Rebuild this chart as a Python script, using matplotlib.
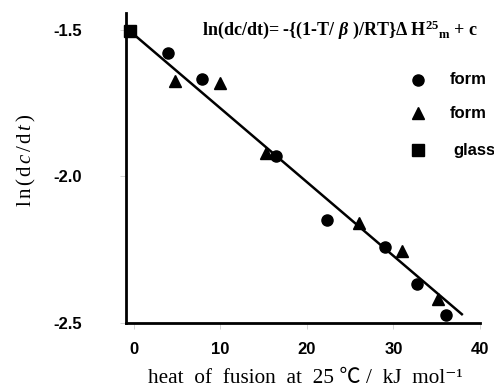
import matplotlib
matplotlib.use("Agg")
import matplotlib.pyplot as plt
from matplotlib.lines import Line2D

plt.rcParams["mathtext.fontset"] = "custom"
plt.rcParams["mathtext.rm"] = "Liberation Serif"
plt.rcParams["mathtext.it"] = "Liberation Serif:italic"
plt.rcParams["mathtext.bf"] = "Liberation Serif:bold"
try:
    plt.rcParams["mathtext.bfit"] = "Liberation Serif:italic:bold"
    BETA = r"$\mathbfit{\beta}$"
except KeyError:
    BETA = r"$\mathbf{\beta}$"

# data
circle_x = [3.9, 7.9, 16.4, 22.35, 29.0, 32.7, 36.1]
circle_y = [-1.58, -1.668, -1.93, -2.148, -2.24, -2.367, -2.473]
tri_x = [4.8, 9.9, 15.3, 26.05, 30.95, 35.2]
tri_y = [-1.674, -1.68, -1.921, -2.158, -2.253, -2.418]
glass_x = [-0.5]
glass_y = [-1.503]
line_x = [-0.5, 37.9]
line_y = [-1.503, -2.47]
xticks = [0, 10, 20, 30, 40]
yticks = [-1.5, -2.0, -2.5]
ytick_labels = ["-1.5", "-2.0", "-2.5"]
legend_labels = ["form", "form", "glass"]

fig = plt.figure(figsize=(4.94, 3.90), dpi=100)
ax = fig.add_axes([126/494, 1-323/390, (480-126)/494, (323-13)/390])
ax.set_xlim(-0.92, 40)
ax.set_ylim(-2.5, -1.442)

ax.plot(line_x, line_y, color="black", lw=1.8, zorder=2)
ax.plot(circle_x, circle_y, "o", color="black", ms=8, zorder=3, clip_on=False)
ax.plot(tri_x, tri_y, "^", color="black", ms=8.5, zorder=3, clip_on=False)
ax.plot(glass_x, glass_y, "s", color="black", ms=8, zorder=3, clip_on=False)

for s in ["top", "right"]:
    ax.spines[s].set_visible(False)
for s in ["left", "bottom"]:
    ax.spines[s].set_linewidth(2)

ax.set_xticks(xticks)
ax.set_xticklabels([str(v) for v in xticks], fontsize=12, fontweight="bold",
                   family="Liberation Sans")
ax.set_yticks(yticks)
ax.set_yticklabels(ytick_labels, fontsize=12, fontweight="bold",
                   family="Liberation Sans")
ax.tick_params(axis="both", length=4, width=0.6, color="#cccccc")
ax.tick_params(axis="x", pad=10)
ax.tick_params(axis="y", pad=28)

fig.text(305/494, 1-383/390,
         "heat  of  fusion  at  25 \u2103 /  kJ  mol\u207b\u00b9",
         fontsize=15.3, family=["Liberation Serif", "Noto Sans CJK JP", "DejaVu Sans"],
         ha="center", va="baseline")
fig.text(26/494, 1-160/390,
         r"$\mathrm{l\,n\,(\,d}\,\mathit{c}\,\mathrm{/\,d}\,\mathit{t}\,\mathrm{)}$",
         rotation=90, fontsize=15, ha="center", va="center")

fig.text(202/494, 1-35/390,
         "ln(dc/dt)= -{(1-T/ " + BETA + r" )/RT}$\mathbf{\Delta}$ $\mathbf{H}^{\mathbf{25}}$$_{\mathbf{m}}$ + c",
         fontsize=13.0, fontweight="bold", family="Liberation Serif",
         ha="left", va="baseline")

# legend (clipped at right like the reference)
ys = [80, 113, 150]
marks = ["o", "^", "s"]
for yy, mk, lab in zip(ys, marks, legend_labels):
    fig.lines.append(Line2D([418/494], [1-yy/390], marker=mk, color="black",
                            ms=8, transform=fig.transFigure, ls=""))
    fig.text(450/494 if lab != "glass" else 453/494, 1-yy/390, lab,
             fontsize=12, fontweight="bold", family="Liberation Sans",
             ha="left", va="center")

fig.savefig("out.png", dpi=100)
